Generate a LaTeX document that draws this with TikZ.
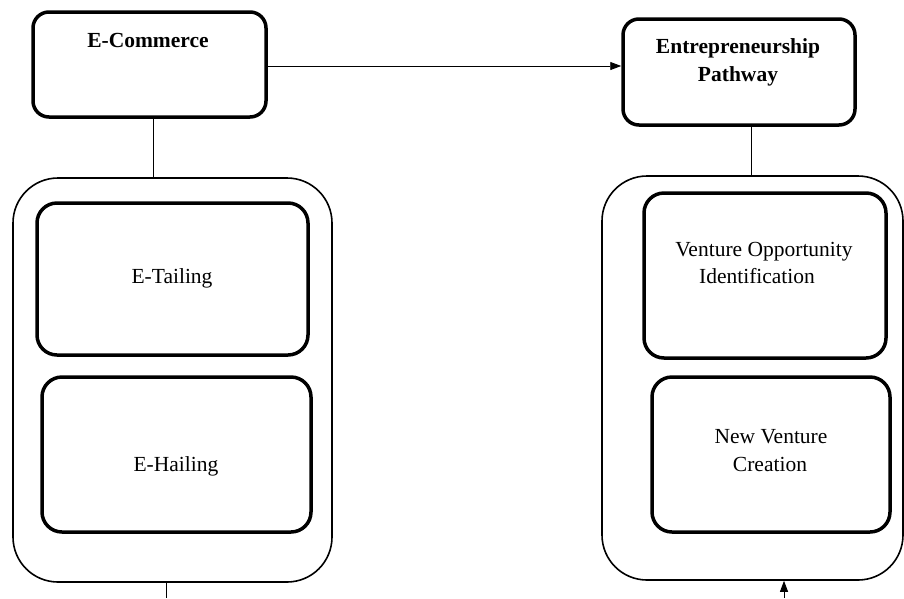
\documentclass[tikz,border=0pt]{standalone}
\usepackage{fontspec}
\setmainfont{Liberation Serif}
\usetikzlibrary{arrows.meta}
\begin{document}
\begin{tikzpicture}[x=1pt,y=-1pt,
  topbox/.style={draw, line width=3.5pt, rounded corners=16pt, inner sep=0pt},
  inbox/.style={draw, line width=3.5pt, rounded corners=20pt, inner sep=0pt},
  outbox/.style={draw, line width=1.6pt, rounded corners=45pt, inner sep=0pt},
  conn/.style={line width=0.9pt},
  arr/.style={line width=0.9pt, -{Triangle[length=11pt,width=8pt]}},
  txt/.style={font=\fontsize{21.5}{28}\selectfont, anchor=base, inner sep=0pt},
  btxt/.style={txt, font=\fontsize{21.5}{28}\selectfont\bfseries}
]
\useasboundingbox (0,0) rectangle (904,598);

% boxes
\node[topbox, minimum width=233pt, minimum height=105pt] (ecom) at (149.5,64.5) {};
\node[topbox, minimum width=232pt, minimum height=106pt] (ent) at (739,72) {};
\node[outbox, minimum width=319pt, minimum height=404pt] (louter) at (172.5,380) {};
\node[outbox, minimum width=301pt, minimum height=404pt] (router) at (752.5,378) {};
\node[inbox, minimum width=271pt, minimum height=152pt] (etail) at (172.5,279) {};
\node[inbox, minimum width=269pt, minimum height=155pt] (ehail) at (176.5,454.5) {};
\node[inbox, minimum width=242pt, minimum height=165pt] (vopp) at (765,275.5) {};
\node[inbox, minimum width=238pt, minimum height=155pt] (nvc) at (771,454.5) {};

% texts
\node[btxt] (t1) at (148,47) {E-Commerce};
\node[btxt] (t2) at (738,53) {Entrepreneurship};
\node[btxt] (t3) at (738,81) {Pathway};
\node[txt] (t4) at (172,283) {E-Tailing};
\node[txt] (t5) at (176,471) {E-Hailing};
\node[txt] (t6) at (764,256) {Venture Opportunity};
\node[txt] (t7) at (757,283) {Identification};
\node[txt] (t8) at (771,443) {New Venture};
\node[txt] (t9) at (770,471) {Creation};

% connectors
\draw[arr] ([yshift=-1.5pt]ecom.east) -- ([yshift=-1.5pt]ecom.east -| ent.west);
\draw[conn] ([xshift=3.5pt]ecom.south) -- ([xshift=3.5pt]ecom.south |- louter.north);
\draw[conn] ([xshift=12pt]ent.south) -- ([xshift=12pt]ent.south |- router.north);
\coordinate (lend) at (166,598);
\draw[conn] (lend |- louter.south) -- (lend);
\coordinate (rstart) at (784,598);
\draw[arr] (rstart) -- (rstart |- router.south);
\end{tikzpicture}
\end{document}
